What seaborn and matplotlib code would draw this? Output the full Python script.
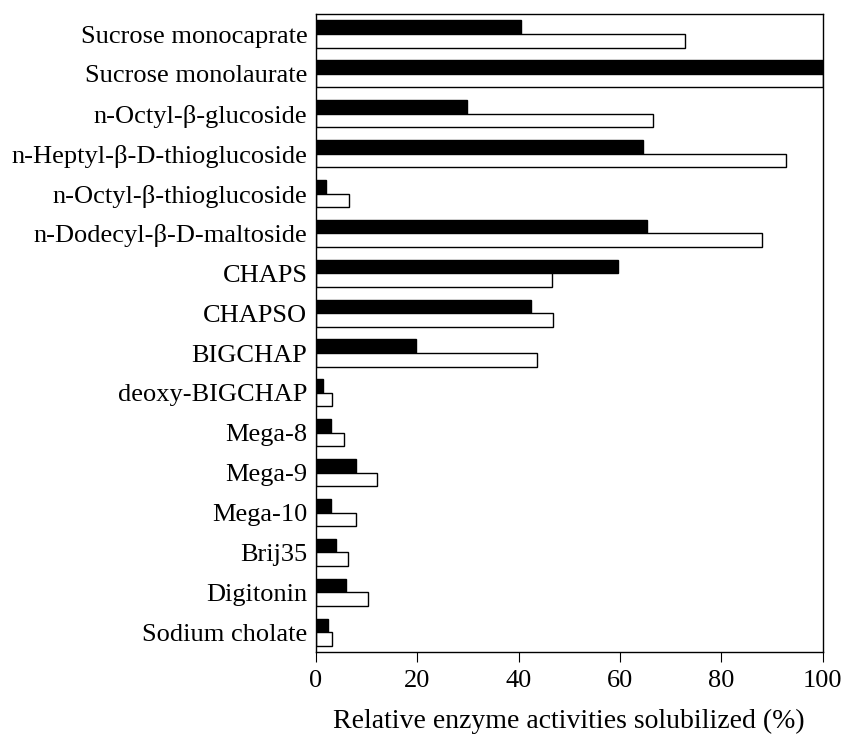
import pandas as pd
import matplotlib.pyplot as plt
import seaborn as sns

# Detergents, top to bottom
detergents = ['Sucrose monocaprate', 'Sucrose monolaurate', 'n-Octyl-β-glucoside',
              'n-Heptyl-β-D-thioglucoside', 'n-Octyl-β-thioglucoside',
              'n-Dodecyl-β-D-maltoside', 'CHAPS', 'CHAPSO', 'BIGCHAP',
              'deoxy-BIGCHAP', 'Mega-8', 'Mega-9', 'Mega-10', 'Brij35',
              'Digitonin', 'Sodium cholate']

# Relative activities (%) for the two enzymes
black_vals = [40.4, 100, 29.8, 64.6, 2.1, 65.4, 59.7, 42.5, 19.8, 1.4, 3.1, 8.0, 3.1, 3.9, 5.9, 2.5]
white_vals = [72.9, 100, 66.5, 92.7, 6.6, 88.1, 46.6, 46.8, 43.6, 3.3, 5.5, 12.1, 7.9, 6.4, 10.4, 3.3]

df = pd.DataFrame({
    'detergent': detergents * 2,
    'value': black_vals + white_vals,
    'series': ['A'] * len(detergents) + ['B'] * len(detergents),
})

sns.set_style("ticks")
plt.rcParams['font.family'] = ['Liberation Serif', 'DejaVu Serif']
plt.rcParams.update({'text.color': 'black', 'axes.labelcolor': 'black',
                     'xtick.color': 'black', 'ytick.color': 'black'})

fig = plt.figure(figsize=(8.42, 7.41), dpi=100)
ax = fig.add_axes([0.375, 0.12, 0.602, 0.861])

sns.barplot(data=df, y='detergent', x='value', hue='series', orient='h',
            palette={'A': 'black', 'B': 'white'}, width=0.68,
            edgecolor='black', linewidth=1.0, legend=False, ax=ax)

ax.set_xlim(0, 100)
ax.set_xticks([0, 20, 40, 60, 80, 100])
ax.tick_params(axis='x', direction='out', length=7, labelsize=19, pad=6)
ax.tick_params(axis='y', length=0, labelsize=19, pad=6)
ax.set_ylabel('')
ax.set_xlabel('Relative enzyme activities solubilized (%)', fontsize=20, labelpad=12)
for s in ax.spines.values():
    s.set_visible(True)
    s.set_color('black')
    s.set_linewidth(1.0)

fig.savefig('out.png', dpi=100)
